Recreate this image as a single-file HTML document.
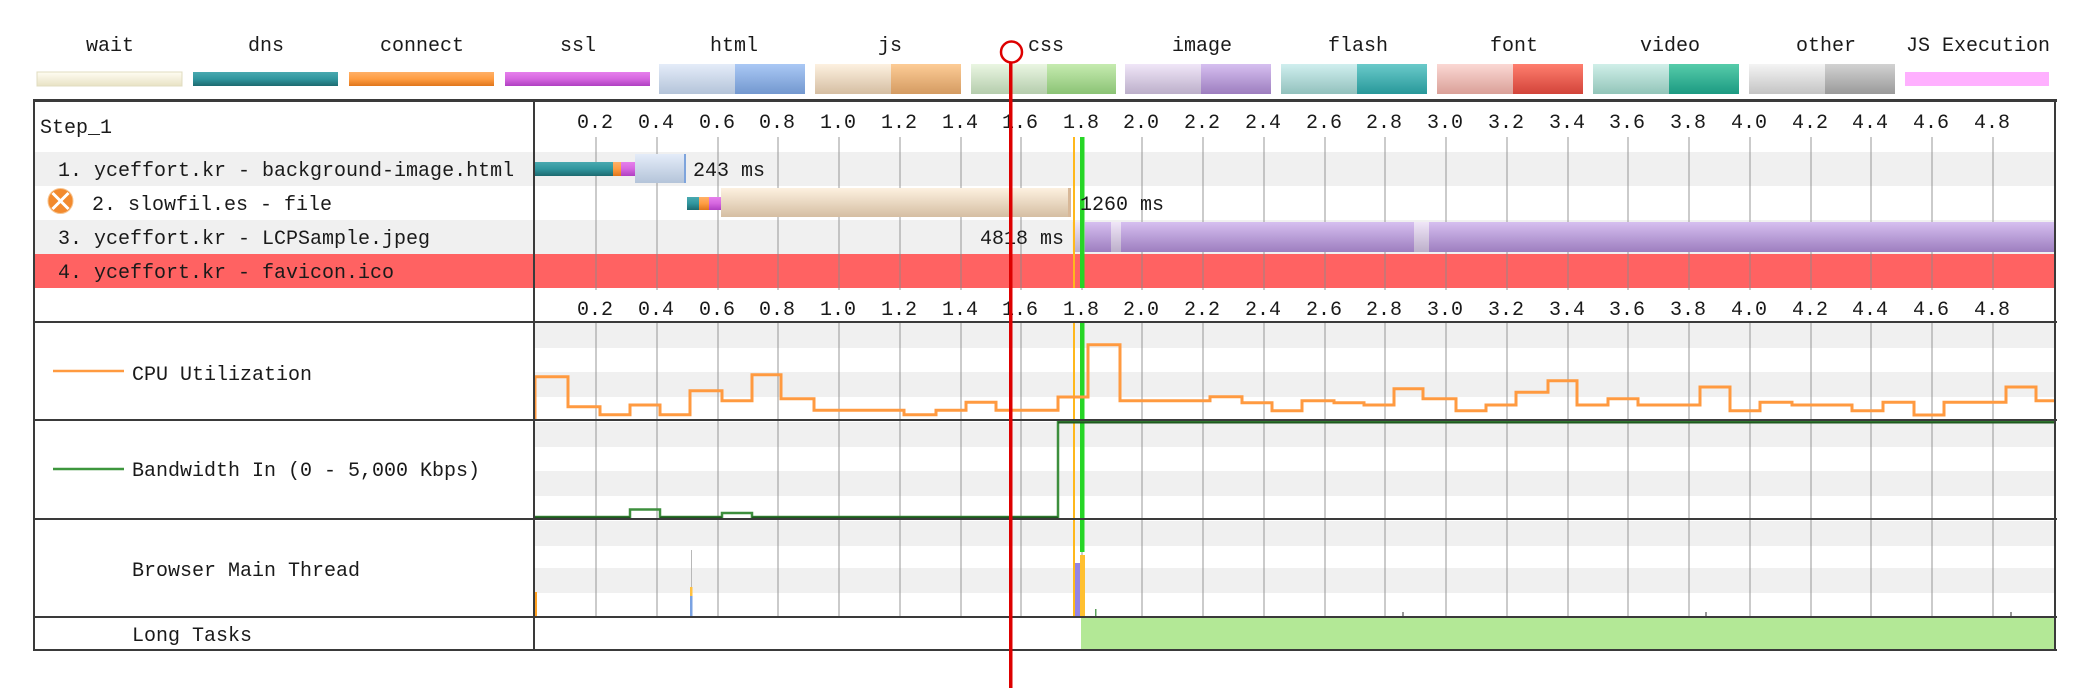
<!DOCTYPE html>
<html><head><meta charset="utf-8"><style>
html,body{margin:0;padding:0;background:#fff;}
svg{display:block;}
text{font-family:"Liberation Mono","DejaVu Sans Mono",monospace;font-size:20px;fill:#1a1a1a;}
</style></head><body>
<svg width="2084" height="688" viewBox="0 0 2084 688" xmlns="http://www.w3.org/2000/svg">
<defs>
<linearGradient id="gwait" x1="0" y1="0" x2="0" y2="1"><stop offset="0" stop-color="#fffdf2"/><stop offset="1" stop-color="#e8e2c4"/></linearGradient>
<linearGradient id="gdns" x1="0" y1="0" x2="0" y2="1"><stop offset="0" stop-color="#4aa9b0"/><stop offset="0.5" stop-color="#30969e"/><stop offset="1" stop-color="#1d6a70"/></linearGradient>
<linearGradient id="gcon" x1="0" y1="0" x2="0" y2="1"><stop offset="0" stop-color="#ffb068"/><stop offset="0.5" stop-color="#ff9d42"/><stop offset="1" stop-color="#e0761c"/></linearGradient>
<linearGradient id="gssl" x1="0" y1="0" x2="0" y2="1"><stop offset="0" stop-color="#e680ec"/><stop offset="0.5" stop-color="#d566df"/><stop offset="1" stop-color="#b040c2"/></linearGradient>
<linearGradient id="htmll" x1="0" y1="0" x2="0" y2="1"><stop offset="0" stop-color="#e4ecf9"/><stop offset="1" stop-color="#b4c4d9"/></linearGradient>
<linearGradient id="htmld" x1="0" y1="0" x2="0" y2="1"><stop offset="0" stop-color="#aac8f5"/><stop offset="1" stop-color="#7398cf"/></linearGradient>
<linearGradient id="jsl" x1="0" y1="0" x2="0" y2="1"><stop offset="0" stop-color="#fdf1e0"/><stop offset="1" stop-color="#d5bea2"/></linearGradient>
<linearGradient id="jsd" x1="0" y1="0" x2="0" y2="1"><stop offset="0" stop-color="#fdcc96"/><stop offset="1" stop-color="#d49b62"/></linearGradient>
<linearGradient id="cssl" x1="0" y1="0" x2="0" y2="1"><stop offset="0" stop-color="#eaf6e2"/><stop offset="1" stop-color="#b5cdad"/></linearGradient>
<linearGradient id="cssd" x1="0" y1="0" x2="0" y2="1"><stop offset="0" stop-color="#c6ebb0"/><stop offset="1" stop-color="#8bc375"/></linearGradient>
<linearGradient id="imgl" x1="0" y1="0" x2="0" y2="1"><stop offset="0" stop-color="#f0e6f8"/><stop offset="1" stop-color="#bcafca"/></linearGradient>
<linearGradient id="imgd" x1="0" y1="0" x2="0" y2="1"><stop offset="0" stop-color="#d6bff0"/><stop offset="1" stop-color="#9d7ebf"/></linearGradient>
<linearGradient id="flal" x1="0" y1="0" x2="0" y2="1"><stop offset="0" stop-color="#d0efef"/><stop offset="1" stop-color="#92c1bd"/></linearGradient>
<linearGradient id="flad" x1="0" y1="0" x2="0" y2="1"><stop offset="0" stop-color="#6acaca"/><stop offset="1" stop-color="#28989a"/></linearGradient>
<linearGradient id="fonl" x1="0" y1="0" x2="0" y2="1"><stop offset="0" stop-color="#fbd8d4"/><stop offset="1" stop-color="#daa098"/></linearGradient>
<linearGradient id="fond" x1="0" y1="0" x2="0" y2="1"><stop offset="0" stop-color="#ff7e6e"/><stop offset="1" stop-color="#d2443a"/></linearGradient>
<linearGradient id="vidl" x1="0" y1="0" x2="0" y2="1"><stop offset="0" stop-color="#d0efe9"/><stop offset="1" stop-color="#92c5b9"/></linearGradient>
<linearGradient id="vidd" x1="0" y1="0" x2="0" y2="1"><stop offset="0" stop-color="#56ccaa"/><stop offset="1" stop-color="#1c9a82"/></linearGradient>
<linearGradient id="othl" x1="0" y1="0" x2="0" y2="1"><stop offset="0" stop-color="#f4f4f4"/><stop offset="1" stop-color="#c4c4c4"/></linearGradient>
<linearGradient id="othd" x1="0" y1="0" x2="0" y2="1"><stop offset="0" stop-color="#d2d2d2"/><stop offset="1" stop-color="#9a9a9a"/></linearGradient>
</defs>

<!-- Legend -->
<g text-anchor="middle">
<text x="110" y="51">wait</text>
<text x="266" y="51">dns</text>
<text x="422" y="51">connect</text>
<text x="578" y="51">ssl</text>
<text x="734" y="51">html</text>
<text x="890" y="51">js</text>
<text x="1046" y="51">css</text>
<text x="1202" y="51">image</text>
<text x="1358" y="51">flash</text>
<text x="1514" y="51">font</text>
<text x="1670" y="51">video</text>
<text x="1826" y="51">other</text>
<text x="1978" y="51">JS Execution</text>
</g>
<rect x="37" y="72" width="145" height="14" fill="url(#gwait)" stroke="#e0dcc0" stroke-width="1"/>
<rect x="193" y="72" width="145" height="14" fill="url(#gdns)"/>
<rect x="349" y="72" width="145" height="14" fill="url(#gcon)"/>
<rect x="505" y="72" width="145" height="14" fill="url(#gssl)"/>
<rect x="659" y="64" width="76" height="30" fill="url(#htmll)"/><rect x="735" y="64" width="70" height="30" fill="url(#htmld)"/>
<rect x="815" y="64" width="76" height="30" fill="url(#jsl)"/><rect x="891" y="64" width="70" height="30" fill="url(#jsd)"/>
<rect x="971" y="64" width="76" height="30" fill="url(#cssl)"/><rect x="1047" y="64" width="69" height="30" fill="url(#cssd)"/>
<rect x="1125" y="64" width="76" height="30" fill="url(#imgl)"/><rect x="1201" y="64" width="70" height="30" fill="url(#imgd)"/>
<rect x="1281" y="64" width="76" height="30" fill="url(#flal)"/><rect x="1357" y="64" width="70" height="30" fill="url(#flad)"/>
<rect x="1437" y="64" width="76" height="30" fill="url(#fonl)"/><rect x="1513" y="64" width="70" height="30" fill="url(#fond)"/>
<rect x="1593" y="64" width="76" height="30" fill="url(#vidl)"/><rect x="1669" y="64" width="70" height="30" fill="url(#vidd)"/>
<rect x="1749" y="64" width="76" height="30" fill="url(#othl)"/><rect x="1825" y="64" width="70" height="30" fill="url(#othd)"/>
<rect x="1905" y="72" width="144" height="14" fill="#ffb0ff"/>

<!-- Row backgrounds -->
<rect x="34" y="152" width="2021" height="34" fill="#f0f0f0"/>
<rect x="34" y="220" width="2021" height="34" fill="#f0f0f0"/>
<rect x="34" y="254" width="2021" height="34" fill="#ff6262"/>

<!-- section bands -->
<g fill="#f0f0f0">
<rect x="535" y="323" width="1519" height="25"/>
<rect x="535" y="372" width="1519" height="25"/>
<rect x="535" y="422" width="1519" height="25"/>
<rect x="535" y="471" width="1519" height="25"/>
<rect x="535" y="521" width="1519" height="25"/>
<rect x="535" y="568" width="1519" height="25"/>
</g>

<!-- gridlines -->
<g stroke="rgba(140,140,140,0.45)" stroke-width="2">
<path d="M596,137V290M657,137V290M718,137V290M778,137V290M839,137V290M900,137V290M961,137V290M1021,137V290M1082,137V290M1142,137V290M1203,137V290M1264,137V290M1325,137V290M1385,137V290M1446,137V290M1507,137V290M1568,137V290M1628,137V290M1689,137V290M1750,137V290M1811,137V290M1871,137V290M1932,137V290M1993,137V290"/>
<path d="M596,322V617M657,322V617M718,322V617M778,322V617M839,322V617M900,322V617M961,322V617M1021,322V617M1082,322V617M1142,322V617M1203,322V617M1264,322V617M1325,322V617M1385,322V617M1446,322V617M1507,322V617M1568,322V617M1628,322V617M1689,322V617M1750,322V617M1811,322V617M1871,322V617M1932,322V617M1993,322V617"/>
</g>

<!-- tick labels -->
<g text-anchor="middle">
<g transform="translate(0,128)">
<text x="595" y="0">0.2</text><text x="656" y="0">0.4</text><text x="717" y="0">0.6</text><text x="777" y="0">0.8</text><text x="838" y="0">1.0</text><text x="899" y="0">1.2</text><text x="960" y="0">1.4</text><text x="1020" y="0">1.6</text><text x="1081" y="0">1.8</text><text x="1141" y="0">2.0</text><text x="1202" y="0">2.2</text><text x="1263" y="0">2.4</text><text x="1324" y="0">2.6</text><text x="1384" y="0">2.8</text><text x="1445" y="0">3.0</text><text x="1506" y="0">3.2</text><text x="1567" y="0">3.4</text><text x="1627" y="0">3.6</text><text x="1688" y="0">3.8</text><text x="1749" y="0">4.0</text><text x="1810" y="0">4.2</text><text x="1870" y="0">4.4</text><text x="1931" y="0">4.6</text><text x="1992" y="0">4.8</text>
</g>
<g transform="translate(0,315)">
<text x="595" y="0">0.2</text><text x="656" y="0">0.4</text><text x="717" y="0">0.6</text><text x="777" y="0">0.8</text><text x="838" y="0">1.0</text><text x="899" y="0">1.2</text><text x="960" y="0">1.4</text><text x="1020" y="0">1.6</text><text x="1081" y="0">1.8</text><text x="1141" y="0">2.0</text><text x="1202" y="0">2.2</text><text x="1263" y="0">2.4</text><text x="1324" y="0">2.6</text><text x="1384" y="0">2.8</text><text x="1445" y="0">3.0</text><text x="1506" y="0">3.2</text><text x="1567" y="0">3.4</text><text x="1627" y="0">3.6</text><text x="1688" y="0">3.8</text><text x="1749" y="0">4.0</text><text x="1810" y="0">4.2</text><text x="1870" y="0">4.4</text><text x="1931" y="0">4.6</text><text x="1992" y="0">4.8</text>
</g>
</g>

<!-- Row labels -->
<text x="40" y="133">Step_1</text>
<text x="58" y="176">1. yceffort.kr - background-image.html</text>
<text x="92" y="210">2. slowfil.es - file</text>
<text x="58" y="244">3. yceffort.kr - LCPSample.jpeg</text>
<text x="58" y="278">4. yceffort.kr - favicon.ico</text>
<!-- error icon -->
<g transform="translate(60.5,201)">
<circle r="12.5" fill="#f28a2e" stroke="#f7c48f" stroke-width="1"/>
<path d="M-8,-8L8,8M8,-8L-8,8" stroke="#fff" stroke-width="3"/>
</g>

<!-- Row 1 bars -->
<rect x="535" y="162" width="78" height="14" fill="url(#gdns)"/>
<rect x="613" y="162" width="8" height="14" fill="url(#gcon)"/>
<rect x="621" y="162" width="15" height="14" fill="url(#gssl)"/>
<rect x="635" y="154" width="50" height="29" fill="url(#htmll)"/>
<rect x="684" y="154" width="2" height="29" fill="#7ea4dc"/>
<text x="693" y="176">243 ms</text>

<!-- Row 2 bars -->
<rect x="687" y="197" width="12" height="13" fill="url(#gdns)"/>
<rect x="699" y="197" width="10" height="13" fill="url(#gcon)"/>
<rect x="709" y="197" width="14" height="13" fill="url(#gssl)"/>
<rect x="721" y="188" width="350" height="29" fill="url(#jsl)"/>
<rect x="1068" y="188" width="3" height="29" fill="#d8b898"/>

<!-- Row 3 bars -->
<text x="1064" y="244" text-anchor="end">4818 ms</text>
<rect x="1072" y="222" width="3" height="30" fill="#f4efd8"/>
<rect x="1074" y="222" width="11" height="30" fill="url(#imgl)"/>
<rect x="1085" y="222" width="26" height="30" fill="url(#imgd)"/>
<rect x="1111" y="222" width="10" height="30" fill="url(#imgl)"/>
<rect x="1121" y="222" width="293" height="30" fill="url(#imgd)"/>
<rect x="1414" y="222" width="15" height="30" fill="url(#imgl)"/>
<rect x="1429" y="222" width="625" height="30" fill="url(#imgd)"/>

<!-- timing lines (waterfall) -->
<rect x="1073" y="137" width="2" height="151" fill="#ffb81c"/>
<rect x="1080" y="137" width="4.5" height="151" fill="#26d626"/>
<text x="1080" y="210">1260 ms</text>

<!-- CPU / BW labels -->
<line x1="53" y1="371" x2="124" y2="371" stroke="#ff9a40" stroke-width="2.5"/>
<text x="132" y="380">CPU Utilization</text>
<line x1="53" y1="469" x2="124" y2="469" stroke="#3d963d" stroke-width="2.5"/>
<text x="132" y="476">Bandwidth In (0 - 5,000 Kbps)</text>
<text x="132" y="576">Browser Main Thread</text>
<text x="132" y="641">Long Tasks</text>

<!-- timing lines in sections -->
<rect x="1073" y="322" width="2" height="295" fill="#ffb81c"/>
<rect x="1080" y="322" width="4.5" height="230" fill="#26d626"/>

<!-- CPU line -->
<path d="M535,420 V376.7 H568 V406.7 H600 V414.7 H630 V405 H660 V414.7 H690 V390.7 H722 V400.7 H752 V374.7 H781 V398.7 H814 V410.3 H904 V414.7 H936 V410.3 H966 V402.3 H996 V410.3 H1058 V397 H1088 V344.7 H1120 V400.7 H1210 V396.7 H1242 V402.7 H1272 V410.7 H1302 V400.7 H1334 V402.7 H1364 V405 H1394 V388.7 H1423 V398.7 H1456 V410.7 H1486 V405 H1516 V392.3 H1548 V380.7 H1577 V405 H1608 V398.7 H1638 V405 H1700 V387 H1730 V410.7 H1760 V402.3 H1792 V405 H1852 V410.7 H1883 V402.3 H1914 V415 H1944 V402.3 H2006 V387 H2036 V400.7 H2054" fill="none" stroke="#ff9a40" stroke-width="3"/>

<!-- Bandwidth line -->
<path d="M535,517 H630 V509.5 H660 V517 H722 V513 H752 V517 H1058 V422 H2054" fill="none" stroke="#3d8f3d" stroke-width="2.5"/>
<path d="M535,517.5 H630 M660,517.5 H722 M752,517.5 H1058 M1058,422.5 H2054" fill="none" stroke="#1f5a1f" stroke-width="2"/>

<!-- Main thread -->
<rect x="535" y="592" width="2" height="24" fill="#ffa020"/>
<rect x="691" y="550" width="1" height="40" fill="#b8b8b8"/>
<rect x="690" y="587" width="2.5" height="9" fill="#ffc040"/>
<rect x="690" y="596" width="2.5" height="20" fill="#7aa2e2"/>
<rect x="1075" y="563" width="5" height="54" fill="#9484e4"/>
<rect x="1080" y="555" width="5" height="62" fill="#ffc030"/>
<rect x="1095" y="609" width="1.5" height="7" fill="#5aa05a"/>
<rect x="1402" y="612" width="2" height="4" fill="#999"/>
<rect x="1705" y="612" width="2" height="4" fill="#999"/>
<rect x="2010" y="612" width="2" height="4" fill="#999"/>

<!-- Long tasks -->
<rect x="1081" y="618" width="973" height="31" fill="#b3e896"/>

<!-- Borders -->
<g fill="#3a3a3a">
<rect x="33" y="99" width="2024" height="3"/>
<rect x="33" y="321" width="2024" height="2"/>
<rect x="33" y="419" width="2024" height="2"/>
<rect x="33" y="518" width="2024" height="2"/>
<rect x="33" y="616" width="2024" height="2"/>
<rect x="33" y="649" width="2024" height="2"/>
<rect x="33" y="99" width="2" height="552"/>
<rect x="533" y="99" width="2" height="552"/>
<rect x="2054" y="99" width="2" height="552"/>
</g>

<!-- red marker -->
<rect x="1009" y="62.5" width="3.5" height="626" fill="#dd0000"/>
<circle cx="1011.5" cy="52" r="10.5" fill="none" stroke="#dd0000" stroke-width="2.5"/>
</svg>
</body></html>
